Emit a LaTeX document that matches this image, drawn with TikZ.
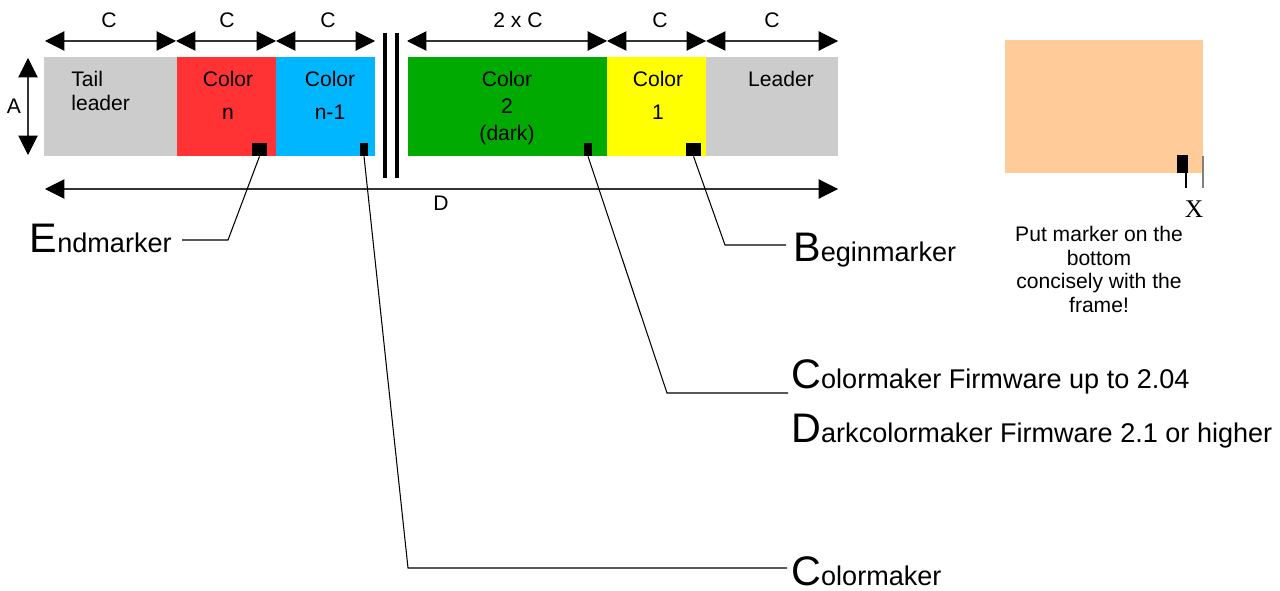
\documentclass[tikz,border=0pt]{standalone}
\usepackage{fontspec}
\setmainfont{Liberation Sans}
\newfontfamily\tmsfont{Liberation Serif}
\usetikzlibrary{arrows.meta}
\definecolor{cgray}{HTML}{CCCCCC}
\definecolor{cred}{HTML}{FF3333}
\definecolor{cblue}{HTML}{00B6FF}
\definecolor{cgreen}{HTML}{00AA00}
\definecolor{cyellow}{HTML}{FFFF00}
\definecolor{corange}{HTML}{FFCC99}
\definecolor{lgray}{HTML}{333333}
\newcommand{\bigfirst}[2]{{\fontsize{23.5pt}{26pt}\selectfont #1}{\fontsize{15.4pt}{18pt}\selectfont #2}}
\begin{document}
\begin{tikzpicture}[x=0.02cm,y=-0.02cm,
  dim/.style={draw=lgray,line width=0.6pt,{Triangle[length=11pt,width=11pt,color=black]}-{Triangle[length=11pt,width=11pt,color=black]}},
  lead/.style={draw=black,line width=0.6pt},
  mk/.style={fill=black,inner sep=0pt,minimum height=0.26cm},
  lbl/.style={inner sep=0pt,font=\fontsize{12pt}{14pt}\selectfont},
  big/.style={inner sep=0pt,anchor=base west}]
\useasboundingbox (0,0) rectangle (1280,591);
% bars
\fill[cgray]   (44,57) rectangle (177,156);
\fill[cred]    (177,57) rectangle (276,156);
\fill[cblue]   (276,57) rectangle (375,156);
\fill[cgreen]  (408,57) rectangle (607,156);
\fill[cyellow] (607,57) rectangle (706,156);
\fill[cgray]   (706,57) rectangle (838,156);
% break lines
\draw[line width=2.3pt] (385,33) -- (385,178);
\draw[line width=2.3pt] (397,33) -- (397,178);
% bar texts
\node[lbl,anchor=north west,align=left,font=\fontsize{12pt}{13.7pt}\selectfont] (ttail) at (71,71) {Tail\\leader};
\node[lbl,anchor=north,align=center,font=\fontsize{12pt}{18.8pt}\selectfont] (tn) at (228,71) {Color\\n};
\node[lbl,anchor=north,align=center,font=\fontsize{12pt}{18.8pt}\selectfont] (tn1) at (330,71) {Color\\n-1};
\node[lbl,anchor=north,align=center,font=\fontsize{12pt}{15.4pt}\selectfont] (t2) at (507,71) {Color\\2\\(dark)};
\node[lbl,anchor=north,align=center,font=\fontsize{12pt}{18.8pt}\selectfont] (t1) at (658,71) {Color\\1};
\node[lbl,anchor=north] (tlead) at (781,71) {Leader};
% top dimension arrows
\coordinate (p0) at (45,41); \coordinate (p1) at (176,41); \coordinate (p2) at (276,41); \coordinate (p3) at (375,41);
\coordinate (q0) at (407,41); \coordinate (q1) at (607,41); \coordinate (q2) at (706,41); \coordinate (q3) at (838,41);
\draw[dim] (p0) -- (p1);
\draw[dim] (p1) -- (p2);
\draw[dim] (p2) -- (p3);
\draw[dim] (q0) -- (q1);
\draw[dim] (q1) -- (q2);
\draw[dim] (q2) -- (q3);
\node[lbl,anchor=base] (c1) at (109,28) {C};
\node[lbl,anchor=base] (c2) at (227,28) {C};
\node[lbl,anchor=base] (c3) at (328,28) {C};
\node[lbl,anchor=base] (c4) at (518,28) {2 x C};
\node[lbl,anchor=base] (c5) at (660,28) {C};
\node[lbl,anchor=base] (c6) at (772,28) {C};
% A arrow
\coordinate (a0) at (28,58); \coordinate (a1) at (28,155);
\draw[dim] (a0) -- (a1);
\node[lbl,anchor=base] (la) at (14,114) {A};
% D arrow
\coordinate (d0) at (45,189); \coordinate (d1) at (838,189);
\draw[dim] (d0) -- (d1);
\node[lbl,anchor=base] (ld) at (441,211) {D};
% markers
\node[mk,minimum width=0.30cm] (mEnd) at (259.5,149.5) {};
\node[mk,minimum width=0.16cm] (mC1) at (364,149.5) {};
\node[mk,minimum width=0.16cm] (mC2) at (588,149.5) {};
\node[mk,minimum width=0.30cm] (mBeg) at (693.5,149.5) {};
% labels
\node[big,anchor=base east] (tEnd) at (172,252) {\bigfirst{E}{ndmarker}};
\node[big] (tBeg) at (793,261) {\bigfirst{B}{eginmarker}};
\node[big] (tCF) at (791,388) {\bigfirst{C}{olormaker Firmware up to 2.04}};
\node[big] (tDF) at (791,442) {\bigfirst{D}{arkcolormaker Firmware 2.1 or higher}};
\node[big] (tC) at (791,585) {\bigfirst{C}{olormaker}};
% leader lines
\coordinate (eEnd) at (182,240);
\coordinate (eBeg) at (786,245);
\coordinate (eCF) at (788,393);
\coordinate (eC) at (787,568);
\draw[lead] (mEnd.south) -- (228,240) -- (eEnd);
\draw[lead] (mBeg.south) -- (725,245) -- (eBeg);
\draw[lead] (mC2.south) -- (667,393) -- (eCF);
\draw[lead] (mC1.south) -- (408,568) -- (eC);
% right detail
\fill[corange] (1005,40) rectangle (1203,173);
\node[mk,minimum width=0.22cm,minimum height=0.36cm] (mX) at (1182.5,164) {};
\coordinate (x1) at (1186,188);
\coordinate (x2a) at (1203,156);
\coordinate (x2) at (1203,188);
\draw[line width=0.6pt] (mX.south -| x1) -- (x1);
\draw[line width=0.8pt,draw=gray] (x2a) -- (x2);
\node[inner sep=0pt,anchor=base,font=\tmsfont\fontsize{14.5pt}{16pt}\selectfont] (lx) at (1194,217) {X};
\node[lbl,anchor=north,align=center,font=\fontsize{12pt}{13.4pt}\selectfont] (note) at (1099,226) {Put marker on the\\bottom\\concisely with the\\frame!};
\end{tikzpicture}
\end{document}
